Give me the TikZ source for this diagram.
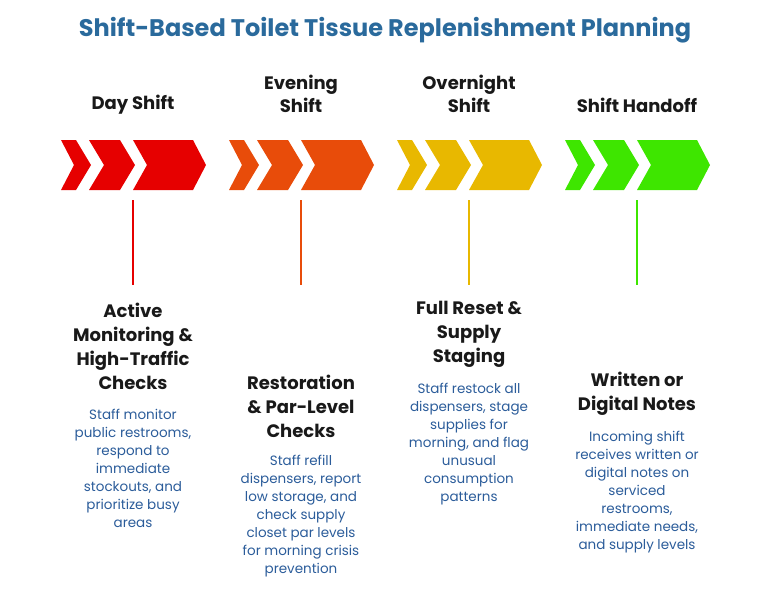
\documentclass[tikz,border=0pt]{standalone}
\usepackage{fontspec}
\setmainfont{Poppins}
\definecolor{titleblue}{HTML}{2A6A9C}
\definecolor{bodyblue}{HTML}{2B5C9A}
\definecolor{dayred}{HTML}{E60000}
\definecolor{eveorange}{HTML}{E84C0A}
\definecolor{nightyellow}{HTML}{E8B800}
\definecolor{handgreen}{HTML}{3EE600}
\tikzset{
  shifthead/.style={font=\fontsize{18}{23}\selectfont\bfseries, text=black!90, align=center},
  steptitle/.style={font=\fontsize{18}{24}\selectfont\bfseries, text=black!90, align=center},
  stepbody/.style={font=\fontsize{13.5}{18}\selectfont, text=bodyblue, align=center}
}
\begin{document}
\begin{tikzpicture}[x=1pt,y=-1pt]
  \useasboundingbox (0,0) rectangle (771,590);
  \node[font=\fontsize{24}{28}\selectfont\bfseries, text=titleblue] (title) at (385,30) {Shift-Based Toilet Tissue Replenishment Planning};
  % chevrons and stems
  \foreach \cx/\col/\nm in {133/dayred/day,301/eveorange/eve,469/nightyellow/night,637/handgreen/hand} {
    \fill[\col] (\cx-72,140) -- (\cx-57,140) -- (\cx-42,165) -- (\cx-57,190) -- (\cx-72,190) -- (\cx-59,165) -- cycle;
    \fill[\col] (\cx-44,140) -- (\cx-13,140) -- (\cx+2,165) -- (\cx-13,190) -- (\cx-44,190) -- (\cx-29,165) -- cycle;
    \fill[\col] (\cx,140) -- (\cx+60,140) -- (\cx+73,165) -- (\cx+60,190) -- (\cx,190) -- (\cx+14,165) -- cycle;
    \coordinate (\nm top) at (\cx,200);
    \coordinate (\nm bot) at (\cx,285);
    \draw[\col, line width=1.5pt] (\nm top) -- (\nm bot);
  }
  % shift headings
  \node[shifthead] (dayhead) at (133,105) {Day Shift};
  \node[shifthead] (evehead) at (301,94) {Evening\\Shift};
  \node[shifthead] (nighthead) at (469,94) {Overnight\\Shift};
  \node[shifthead] (handhead) at (637,105) {Shift Handoff};
  % step titles
  \node[steptitle] (daytitle) at (133,346) {Active\\Monitoring \&\\High-Traffic\\Checks};
  \node[steptitle] (evetitle) at (301,406) {Restoration\\\& Par-Level\\Checks};
  \node[steptitle] (nighttitle) at (469,334) {Full Reset \&\\Supply\\Staging};
  \node[steptitle] (handtitle) at (637,394) {Written or\\Digital Notes};
  % step texts
  \node[stepbody] (daybody) at (133,468) {Staff monitor\\public restrooms,\\respond to\\immediate\\stockouts, and\\prioritize busy\\areas};
  \node[stepbody] (evebody) at (301,516) {Staff refill\\dispensers, report\\low storage, and\\check supply\\closet par levels\\for morning crisis\\prevention};
  \node[stepbody] (nightbody) at (469,444) {Staff restock all\\dispensers, stage\\supplies for\\morning, and flag\\unusual\\consumption\\patterns};
  \node[stepbody] (handbody) at (637,492) {Incoming shift\\receives written or\\digital notes on\\serviced\\restrooms,\\immediate needs,\\and supply levels};
\end{tikzpicture}
\end{document}
